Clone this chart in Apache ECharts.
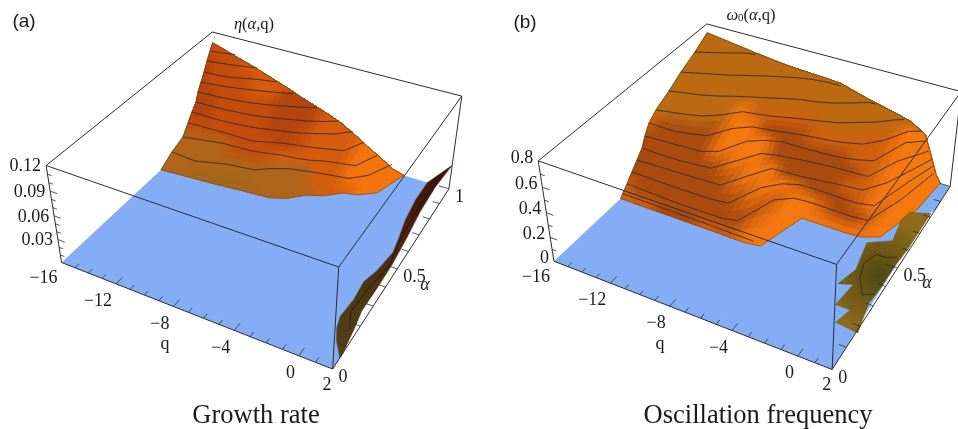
<!doctype html>
<html><head><meta charset="utf-8"><style>html,body{margin:0;background:#fff}#c{width:958px;height:429px}</style>
<script src="https://cdn.jsdelivr.net/npm/echarts@6/dist/echarts.min.js"></script></head>
<body><div id="c"></div>
<script>
// ---------- axis ticks ----------
const qTicks = [-16,-12,-8,-4,0,2];
const alphaTicks = [0,0.5,1];
const etaZTicks = [0.12,0.09,0.06,0.03];
const omegaZTicks = [0.8,0.6,0.4,0.2,0];

// ---------- (a) growth rate: alpha where eta reaches each contour level, per q station ----------
const etaQ = [-16,-15,-14,-13,-12,-11,-10,-9,-8,-7,-6,-5,-4,-3,-2,-1.2];
const etaEdge = [.106,.101,.095,.090,.084,.078,.072,.065,.059,.053,.046,.036,.025,.015,.004,0]; // eta at alpha=1
const etaLevels = [.0983,.0886,.0776,.0679,.0583,.0475,.039,.0292,.0166,.0101,0];
const etaEnds = [-14.2,-12.5,-10.9,-9.6,-7.7,-6.2,-5.1,-4.2,-3.2,-2.1,-1.2];
const etaAlpha = [
[.979,.988],
[.954,.964,.975,.990],
[.930,.933,.942,.963,.981,.994],
[.905,.913,.922,.937,.952,.969,.987],
[.881,.885,.889,.898,.908,.924,.943,.964,.988],
[.863,.865,.867,.873,.880,.892,.909,.927,.946,.972],
[.832,.832,.831,.835,.842,.851,.868,.882,.901,.927,.954],
[.800,.803,.806,.808,.808,.808,.829,.850,.863,.877,.895,.913],
[.760,.773,.786,.796,.799,.802,.815,.830,.838,.851,.874,.886,.900],
[.680,.675,.671,.690,.708,.717,.726,.765,.794,.808,.821,.832,.843,.894],
[.601,.606,.610,.614,.619,.625,.631,.636,.642,.667,.719,.744,.793,.810,.855]];
const etaShade = [
'rrrmmmmmmmmmoooo','rrrmmmmmmmmmoooo','drrmmmmmmmmmoooo','drrrmmmmmmmmoooo',
'drrrmmdddmmmoooo','ddrrrrdddmmmmooo','ddrrrrdddmmmoooo','ddrrrrddrmmmoooo',
'rrrrrrrdrmmmoooo','ggggrrrmmmmmoooo','ggggggggggmmoooo','ggyyyyyggggmmooo'];
// narrow ridge next to q=2
const ridgeContactQ = [2.0,1.3,.9,.7,.8,.7,1.0,1.2,1.0,.7,.5,.5];
const ridgeContactAlpha = [.05,.11,.16,.21,.30,.39,.46,.57,.65,.75,.88,1];
const ridgeEdgeAlpha = [.07,.16,.20,.33,.45,.57,.68,.82,1];
const ridgeEdgeEta = [0,.011,.019,.018,.019,.026,.035,.038,.032];
const ridgeLineQ = [1.8,1.3,1.4,1.7,1.3,1.2,1.2];
const ridgeLineAlpha = [.14,.21,.33,.47,.63,.82,.99];
const ridgeLineEta = .01;

// ---------- (b) oscillation frequency ----------
const omegaQ = [-16,-15,-14,-13,-12,-11,-10,-9,-8,-7,-6,-5,-4,-3,-2,-1,0,1,1.3];
const omegaEdge = [.726,.710,.694,.678,.662,.646,.634,.626,.620,.614,.605,.571,.538,.510,.482,.450,.378,.058,0];
const omegaLevels = [.651,.584,.514,.452,.397,.322,.247,.187,.128,.069,0];
const omegaEnds = [-12.3,-6.0,-3.5,-1.5,-.3,.1,.3,.6,.7,.8,1.3];
const omegaAlpha = [
[.909,.934,.961,.992],
[.807,.829,.851,.874,.901,.928,.952,.975,.991,1],
[.722,.738,.753,.774,.803,.827,.851,.876,.899,.911,.933,.963,.998],
[.632,.646,.660,.679,.717,.771,.783,.797,.817,.835,.852,.870,.903,.936,.983],
[.584,.583,.583,.597,.614,.695,.738,.748,.761,.774,.784,.792,.806,.826,.882,.976],
[.553,.556,.559,.563,.566,.596,.697,.733,.755,.755,.757,.760,.766,.780,.804,.959,1],
[.530,.528,.527,.529,.535,.542,.622,.703,.719,.730,.739,.745,.751,.754,.757,.892,.972],
[.494,.496,.498,.500,.502,.505,.507,.594,.677,.680,.684,.692,.701,.708,.715,.791,.918],
[.458,.457,.456,.455,.455,.456,.457,.466,.594,.650,.674,.677,.676,.674,.675,.690,.881],
[.423,.421,.419,.416,.414,.414,.414,.415,.429,.589,.630,.636,.635,.634,.633,.640,.803],
[.379,.378,.378,.378,.378,.377,.377,.377,.376,.376,.386,.583,.583,.583,.583,.589,.619,.823]];
const omegaShade = [
'ccccccccccccccccccc','cccccccccccccccccoo','ccccccccccccccccmoo','ccccccccccccccccmoo',
'cccccommmmccccccmoo','mddddoodddmmmmmoooo','dddddooodddddmmoooo','ddddddooddddddmoooo',
'dddddddooddddmmoooo','ddddddddoomdddmoooo','mddddddddmoomddmooo','cmmdddmmmoooooooooo'];
// lowest contour, seen only along the front of the surface
const omegaLowLevel = .02;
const omegaLowQ = [-16,-12,-8,-6.5];
const omegaLowAlpha = [.395,.392,.388,.386];
// patch of small values near q=2
const patchQ = [-.5,-.1,-.5,.8,.5,.7,1.9,1.9,1.8,1.8,1.7,2.1,.7,1.0,.6,.1,.3];
const patchAlpha = [.34,.43,.57,.62,.74,.79,.82,.60,.51,.39,.30,.17,.18,.25,.25,.25,.36];
const patchLineQ = [1.7,1.1,.4,.1,.4,1.0,1.6];
const patchLineAlpha = [.35,.33,.40,.47,.53,.53,.55];

// floor outlines (right-hand side)
const etaFloorQ = [2,2].concat(ridgeContactQ.slice(1));
const etaFloorAlpha = [0,.05].concat(ridgeContactAlpha.slice(1));
const omegaFloorQ = [2,2,1.9,1.8,1.8,2,2];
const omegaFloorAlpha = [0,.17,.20,.60,.82,.84,1];

// ---------- palettes, camera ----------
const paletteA = {r:'#c64c0c',d:'#b3440e',m:'#d65c0d',o:'#f3740f',g:'#b0651a',y:'#a2681a'};
const paletteB = {c:'#bb6a12',m:'#cf5f0e',d:'#aa4a0f',o:'#f5780f'};
const LINE='#2c2c2c', FLOOR='#84adf6', SERIF='"Liberation Serif",serif';

function solve(A,b){const n=b.length;A=A.map((r,i)=>[...r,b[i]]);for(let i=0;i<n;i++){let m=i;for(let j=i;j<n;j++)if(Math.abs(A[j][i])>Math.abs(A[m][i]))m=j;[A[i],A[m]]=[A[m],A[i]];for(let j=0;j<n;j++)if(j!=i){const f=A[j][i]/A[i][i];for(let k=i;k<=n;k++)A[j][k]-=f*A[i][k];}}return A.map((r,i)=>r[n]/r[i]);}
function camera(c){const R=[],B=[];for(const [X,Y,Z,u0,v0] of c){const u=u0/1000,v=v0/1000;R.push([X,Y,Z,1,0,0,0,0,-u*X,-u*Y,-u*Z]);B.push(u);R.push([0,0,0,0,X,Y,Z,1,-v*X,-v*Y,-v*Z]);B.push(v);}
 const N=Array.from({length:11},(_,i)=>Array.from({length:11},(_,j)=>R.reduce((s,r)=>s+r[i]*r[j],0)));
 const y=Array.from({length:11},(_,i)=>R.reduce((s,r,k)=>s+r[i]*B[k],0));const p=solve(N,y);p.push(1);return p;}

const panels = [
 {cam:camera([[0,0,0,62,263],[1,0,0,332,369.5],[1,1,0,449,188],[0,0,1,46,165],[1,0,1,339,266.5],[1,1,1,462,97],[0,1,1,212,32]]),
  zMax:.12,zStep:.01,zMajor:3,zTicks:etaZTicks,zOff:[-5,1],qS:etaQ,edge:etaEdge,levels:etaLevels,ends:etaEnds,alpha:etaAlpha,shade:etaShade,pal:paletteA,floorQ:etaFloorQ,floorA:etaFloorAlpha},
 {cam:camera([[0,0,0,554,261],[1,0,0,831,369],[1,1,0,951,187],[0,0,1,538,161],[1,0,1,838,265],[1,1,1,960,91],[0,1,1,707,24]]),
  zMax:.8,zStep:.1,zMajor:2,zTicks:omegaZTicks,zOff:[-5,-3],qS:omegaQ,edge:omegaEdge,levels:omegaLevels,ends:omegaEnds,alpha:omegaAlpha,shade:omegaShade,pal:paletteB,floorQ:omegaFloorQ,floorA:omegaFloorAlpha}];

function proj(P,q,a,z){const p=P.cam,X=(q+16)/18,Y=a,Z=z/P.zMax,w=p[8]*X+p[9]*Y+p[10]*Z+1;
 return [1000*(p[0]*X+p[1]*Y+p[2]*Z+p[3])/w,1000*(p[4]*X+p[5]*Y+p[6]*Z+p[7])/w];}
const hex=h=>[1,3,5].map(i=>parseInt(h.substr(i,2),16));
const lerp=(a,b,t)=>a+(b-a)*t;

function vert(P,j,k){ // k=0 is the alpha=1 edge, k>=1 a contour level
 const q=P.qS[j],row=k>0?P.alpha[k-1]:null,a=row&&row[j]!=null?row[j]:null;
 return a==null?[q,1,P.edge[j]]:[q,Math.min(a,1),P.levels[k-1]];}

const SUB=3, cellItems=[];
panels.forEach((P,pi)=>{for(let k=0;k<P.levels.length;k++)for(let j=0;j<P.qS.length-1;j++)cellItems.push([pi,j,k]);});

function poly(api,pts,style){return {type:'polygon',shape:{points:pts.map(p=>api.coord(p))},style};}
function line(api,pts,style){return {type:'polyline',shape:{points:pts.map(p=>api.coord(p))},style:Object.assign({fill:null,stroke:LINE,lineWidth:1},style)};}

function renderCell(params,api){
 const [pi,j,k]=cellItems[params.dataIndex],P=panels[pi];
 const A=vert(P,j,k),B=vert(P,j+1,k),C=vert(P,j+1,k+1),D=vert(P,j,k+1);
 const cs=[P.shade[k][j],P.shade[k][j+1],P.shade[k+1][j+1],P.shade[k+1][j]].map(c=>hex(P.pal[c]));
 const at=(s,t)=>[0,1,2].map(i=>lerp(lerp(A[i],B[i],s),lerp(D[i],C[i],s),t));
 const ch=[];
 for(let a=0;a<SUB;a++)for(let b=0;b<SUB;b++){
  const s0=a/SUB,s1=(a+1)/SUB,t0=b/SUB,t1=(b+1)/SUB,sm=(s0+s1)/2,tm=(t0+t1)/2;
  const col=[0,1,2].map(i=>Math.round(lerp(lerp(cs[0][i],cs[1][i],sm),lerp(cs[3][i],cs[2][i],sm),tm)));
  const c='rgb('+col+')';
  ch.push(poly(api,[at(s0,t0),at(s1,t0),at(s1,t1),at(s0,t1)].map(v=>proj(P,v[0],v[1],v[2])),{fill:c,stroke:c,lineWidth:1,lineJoin:'round'}));
 }
 return {type:'group',children:ch};
}
function renderFloor(params,api){
 const P=panels[params.dataIndex];
 const pts=[proj(P,-16,0,0)].concat(P.floorQ.map((q,i)=>proj(P,q,P.floorA[i],0)),[proj(P,-16,1,0)]);
 return poly(api,pts,{fill:FLOOR});
}
function renderBack(params,api){
 const P=panels[params.dataIndex],z=P.zMax,ch=[];
 ch.push(line(api,[proj(P,-16,0,z),proj(P,-16,1,z),proj(P,2,1,z)],{}));
 ch.push(line(api,[proj(P,-16,0,z),proj(P,-16,0,0)],{}));
 ch.push(line(api,[proj(P,2,1,z),proj(P,2,1,0)],{}));
 return {type:'group',children:ch};
}
function renderContours(params,api){
 const P=panels[params.dataIndex],ch=[];
 P.levels.forEach((lv,k)=>{
  const pts=[];P.alpha[k].forEach((a,j)=>pts.push(proj(P,P.qS[j],Math.min(a,1),lv)));
  if(P.ends[k]>P.qS[P.alpha[k].length-1])pts.push(proj(P,P.ends[k],1,lv));
  const last=k==P.levels.length-1;
  ch.push(line(api,pts,{stroke:last?'#7a5420':'#3a2a18',lineWidth:last?.7:.9}));
 });
 ch.push(line(api,P.qS.map((q,j)=>proj(P,q,1,P.edge[j])),{stroke:'#6a4418',lineWidth:.7}));
 const left=[proj(P,-16,1,P.edge[0])].concat(P.levels.map((lv,k)=>proj(P,-16,P.alpha[k][0],lv)));
 ch.push(line(api,left,{stroke:'#6a4418',lineWidth:.7}));
 if(params.dataIndex==1)ch.push(line(api,omegaLowQ.map((q,i)=>proj(P,q,omegaLowAlpha[i],omegaLowLevel)),{stroke:'#3a2a18',lineWidth:.9}));
 return {type:'group',children:ch};
}
function renderRidge(params,api){
 const P=panels[0],g={type:'linear',x:0,y:0,x2:0,y2:1,colorStops:[{offset:0,color:'#3c120a'},{offset:.4,color:'#4e2410'},{offset:.72,color:'#4d3c12'},{offset:1,color:'#573f1a'}]};
 const pts=ridgeContactQ.map((q,i)=>proj(P,q,ridgeContactAlpha[i],0));
 for(let i=ridgeEdgeAlpha.length-1;i>=0;i--)pts.push(proj(P,2,ridgeEdgeAlpha[i],ridgeEdgeEta[i]));
 return {type:'group',children:[poly(api,pts,{fill:g,stroke:'#3a2a14',lineWidth:.5}),
  line(api,ridgeLineQ.map((q,i)=>proj(P,q,ridgeLineAlpha[i],ridgeLineEta)),{stroke:'#1e1208',lineWidth:.8})]};
}
function renderPatch(params,api){
 const P=panels[1],g={type:'radial',x:.45,y:.52,r:.6,colorStops:[{offset:0,color:'#4c4913'},{offset:.4,color:'#6a5615'},{offset:1,color:'#8e6b1a'}]};
 return {type:'group',children:[poly(api,patchQ.map((q,i)=>proj(P,q,patchAlpha[i],0)),{fill:g,stroke:'#6a5216',lineWidth:.5}),
  line(api,patchLineQ.map((q,i)=>proj(P,q,patchLineAlpha[i],0)),{stroke:'#2a2410',lineWidth:.8})]};
}
function renderFront(params,api){
 const P=panels[params.dataIndex],z=P.zMax,ch=[];
 ch.push(line(api,[proj(P,-16,0,z),proj(P,2,0,z),proj(P,2,1,z)],{}));
 ch.push(line(api,[proj(P,2,0,z),proj(P,2,0,0)],{}));
 ch.push(line(api,[proj(P,-16,0,0),proj(P,2,0,0),proj(P,2,1,0)],{}));
 for(let q=-16;q<=2;q++){if(q==-16||q==2)continue;const maj=qTicks.includes(q);
  ch.push(line(api,[proj(P,q,0,0),proj(P,q,maj?.035:.022,0)],{lineWidth:.8}));}
 for(let i=1;i<10;i++){const a=i/10,maj=i==5;
  ch.push(line(api,[proj(P,2,a,0),proj(P,maj?1.3:1.55,a,0)],{lineWidth:.8}));}
 const n=Math.round(P.zMax/P.zStep);
 for(let i=1;i<n;i++){const zz=i*P.zStep,maj=i%P.zMajor==0;
  ch.push(line(api,[proj(P,-16,0,zz),proj(P,maj?-15.5:-15.7,0,zz)],{lineWidth:.8}));}
 ch.push(line(api,[proj(P,2,1,0),proj(P,1.3,1,0)],{lineWidth:.8}));
 return {type:'group',children:ch};
}
const fmt=v=>String(v).replace('-','\u2212');
const qOff={'2':[-1,16],'0':[-4,17],'-16':[-4,16]};
function renderTicks(params,api){
 const P=panels[params.dataIndex],ch=[];
 const tx=(p,off,s,al)=>{const c=api.coord(p);return {type:'text',style:{x:c[0]+off[0],y:c[1]+off[1],text:s,align:al,verticalAlign:'middle',font:'18px '+SERIF,fill:'#1a1a1a'}};};
 P.zTicks.forEach(z=>ch.push(tx(proj(P,-16,0,z),P.zOff,fmt(z),'right')));
 qTicks.forEach(q=>ch.push(tx(proj(P,q,0,0),qOff[q]||[-4,17.5],fmt(q),'right')));
 alphaTicks.forEach(a=>ch.push(tx(proj(P,2,a,0),[6,8.5],fmt(a),'left')));
 return {type:'group',children:ch};
}
const custom=(name,data,fn,z)=>({type:'custom',name,coordinateSystem:'cartesian2d',data,renderItem:fn,z,clip:false,silent:true,animation:false});
const pidx=[[0,0],[1,0]];
const text=(x,y,t,font,extra)=>({type:'text',x,y,silent:true,style:Object.assign({text:t,font,fill:'#1a1a1a',align:'center',verticalAlign:'middle'},extra||{})});
const titleRich={i:{fontStyle:'italic',fontFamily:'"Liberation Serif",serif',fontSize:16.5,fill:'#1a1a1a'},n:{fontFamily:'"Liberation Serif",serif',fontSize:16.5,fill:'#1a1a1a'},s:{fontFamily:'"Liberation Serif",serif',fontSize:11,fill:'#1a1a1a',padding:[5,0,0,0]}};

const chart=echarts.init(document.getElementById('c'),null,{renderer:'canvas'});
chart.setOption({animation:false,backgroundColor:'#fff',
 grid:{left:0,top:0,width:958,height:429,show:false},
 xAxis:{type:'value',min:0,max:958,show:false},
 yAxis:{type:'value',min:0,max:429,inverse:true,show:false},
 series:[
  custom('box back',pidx,renderBack,1),
  custom('floor',pidx,renderFloor,2),
  custom('surface',cellItems.map((c,i)=>[i,0]),renderCell,3),
  custom('contours',pidx,renderContours,4),
  custom('ridge',[[0,0]],renderRidge,5),
  custom('patch',[[0,0]],renderPatch,5),
  custom('box front',pidx,renderFront,6),
  custom('tick labels',pidx,renderTicks,7)],
 graphic:[
  text(24,22,'(a)','19px "Liberation Sans",sans-serif'),
  text(525,23,'(b)','19px "Liberation Sans",sans-serif'),
  text(254,25,'{i|\u03b7}{n|(}{i|\u03b1}{n|,q)}','16.5px "Liberation Serif",serif',{rich:titleRich}),
  text(751,16,'{i|\u03c9}{s|0}{n|(}{i|\u03b1}{n|,q)}','16.5px "Liberation Serif",serif',{rich:titleRich}),
  text(165,344,'q','18px "Liberation Serif",serif'),
  text(660,344,'q','18px "Liberation Serif",serif'),
  text(425,285,'\u03b1','italic 18px "Liberation Serif",serif'),
  text(927,283,'\u03b1','italic 18px "Liberation Serif",serif'),
  text(256,416,'Growth rate','26.5px "Liberation Serif",serif'),
  text(758,416,'Oscillation frequency','26.5px "Liberation Serif",serif')]
});
</script></body></html>
